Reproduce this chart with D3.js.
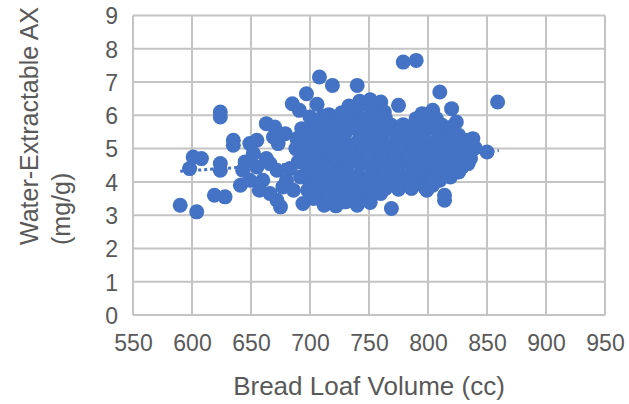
<!DOCTYPE html>
<html>
<head>
<meta charset="utf-8">
<script src="https://cdn.jsdelivr.net/npm/d3@7"></script>
<style>
  html, body { margin: 0; padding: 0; background: #fff; }
  svg { display: block; }
  text { font-family: "Liberation Sans", Arial, sans-serif; fill: #595959; }
</style>
</head>
<body>
<svg id="chart" width="629" height="404"></svg>
<script>
// ---- data ----
const xTicks = [550, 600, 650, 700, 750, 800, 850, 900, 950];
const yTicks = [0, 1, 2, 3, 4, 5, 6, 7, 8, 9];
const xTitle = "Bread Loaf Volume (cc)";
const yTitleLines = ["Water-Extractable AX", "(mg/g)"];
// [bread loaf volume (cc), water-extractable AX (mg/g)]
const samples = [
  [590,3.3],[604,3.1],[601,4.75],[608,4.7],[598,4.4],[624,6.1],[624,5.95],[624,4.55],[624,4.35],[619,3.6],[628,3.55],[635,5.25],[635,5.1],
  [643,4.35],[641,3.9],[649,5.15],[655,5.25],[663,5.75],[670,5.65],[669,5.35],[673,5.15],[666,4.55],[655,4.45],[649,4.05],[660,4.05],
  [657,3.75],[666,3.65],[672,3.45],[675,3.25],[685,6.35],[691,6.15],[689,5.3],[697,6.65],[672,4.35],[680,4.05],[686,3.75],[677,3.85],
  [694,3.35],[652,4.85],[663,4.7],[645,4.6],[683,4.4],[690,4.6],[688,5.0],[679,5.45],[708,7.15],[719,6.9],[740,6.9],[779,7.6],[790,7.65],
  [810,6.7],[859,6.4],[820,6.2],[824,5.8],[834,5.25],[850,4.9],[834,4.55],[814,3.6],[814,3.45],[769,3.2],[799,3.75],[775,6.3],[804,6.15],
  [742,6.42],[751,6.47],[760,6.4],
  [706,6.33],[733,6.28],[747,6.33],[757,6.3],
  [716,6.02],[727,6.08],[739,6.1],[752,6.15],[763,6.1],[795,6.05],
  [700,5.95],[711,5.98],[722,5.92],[733,5.96],[744,5.9],[755,5.97],[764,5.9],[790,5.9],[798,5.95],[807,5.9],
  [704,5.75],[714,5.72],[725,5.78],[736,5.7],[747,5.76],[758,5.73],[769,5.7],[779,5.72],[790,5.72],[801,5.78],[812,5.7],[820,5.65],
  [698,5.5],[709,5.53],[720,5.47],[731,5.52],[742,5.5],[753,5.46],[764,5.54],[775,5.5],[786,5.48],[797,5.52],[808,5.5],[818,5.45],[826,5.4],
  [696,5.25],[707,5.22],[718,5.28],[729,5.24],[740,5.2],[751,5.27],[762,5.23],[773,5.25],[784,5.2],[795,5.26],[806,5.22],[816,5.28],[827,5.2],[838,5.3],
  [700,5.0],[711,4.98],[722,5.03],[733,5.0],[744,4.97],[755,5.02],[766,5.0],[777,4.96],[788,5.03],[799,5.0],[810,4.98],[820,5.05],[830,5.0],[840,5.02],
  [696,4.75],[706,4.78],[717,4.72],[728,4.76],[739,4.74],[750,4.78],[761,4.72],[772,4.75],[783,4.77],[794,4.73],[805,4.76],[815,4.72],[825,4.78],[836,4.7],
  [699,4.5],[710,4.52],[721,4.48],[732,4.5],[743,4.53],[754,4.47],[765,4.5],[776,4.52],[787,4.48],[798,4.51],[809,4.47],[819,4.52],[829,4.45],
  [697,4.25],[708,4.22],[719,4.28],[730,4.24],[741,4.2],[752,4.26],[763,4.23],[774,4.27],[785,4.22],[796,4.25],[807,4.28],[817,4.2],[826,4.3],
  [700,4.0],[711,3.98],[722,4.03],[733,4.0],[744,3.97],[755,4.02],[766,3.98],[777,4.03],[788,4.0],[799,3.97],[810,4.05],[819,4.15],
  [698,3.75],[709,3.78],[720,3.72],[731,3.76],[742,3.7],[753,3.76],[764,3.8],[775,3.78],[786,3.8],[797,3.85],
  [703,3.5],[714,3.53],[725,3.48],[736,3.52],[747,3.47],[760,3.65],
  [712,3.3],[722,3.28],[740,3.3],[751,3.38],[730,3.4],
  [703,4.62],[705,4.12],[703,3.62],[715,3.4],[705,5.38],[703,5.12],[694,4.9],[692,4.15],[693,5.6],
  [716,4.38],[727,3.88],[738,4.62],[749,5.12],[760,3.88],[771,4.62],[782,5.38],[793,4.38],[804,3.9],[813,4.88]
];
// linear trendline endpoints
const trendX = [590, 860];
const trendY = [4.32, 4.94];

// ---- layout ----
const margin = { left: 133, top: 15.5, right: 24, bottom: 89 };
const W = 629, H = 404;
const svg = d3.select("#chart");
const x = d3.scaleLinear().domain([550, 950]).range([margin.left, W - margin.right]);
const y = d3.scaleLinear().domain([0, 9]).range([H - margin.bottom, margin.top]);

const gridColor = "#C4C4C4";
// gridlines
svg.append("g").selectAll("line").data(xTicks).join("line")
  .attr("x1", d => x(d)).attr("x2", d => x(d))
  .attr("y1", y(0)).attr("y2", y(9))
  .attr("stroke", gridColor).attr("stroke-width", 2);
svg.append("g").selectAll("line").data(yTicks).join("line")
  .attr("y1", d => y(d)).attr("y2", d => y(d))
  .attr("x1", x(550)).attr("x2", x(950))
  .attr("stroke", gridColor).attr("stroke-width", 2);

// axes labels via d3 axes (no domain/tick lines)
const xAxis = svg.append("g").attr("transform", `translate(0,${y(0)})`)
  .call(d3.axisBottom(x).tickValues(xTicks).tickSize(0).tickPadding(20));
xAxis.select(".domain").remove();
xAxis.selectAll("text").attr("font-size", 23).attr("fill", "#595959")
  .attr("font-family", "Liberation Sans, Arial, sans-serif").attr("dy", "0.71em");

const yAxis = svg.append("g").attr("transform", `translate(${x(550)},0)`)
  .call(d3.axisLeft(y).tickValues(yTicks).tickSize(0).tickPadding(15));
yAxis.select(".domain").remove();
yAxis.selectAll("text").attr("font-size", 23).attr("fill", "#595959")
  .attr("font-family", "Liberation Sans, Arial, sans-serif").attr("dy", "0.36em");

// trendline
svg.append("line")
  .attr("x1", x(trendX[0])).attr("y1", y(trendY[0]))
  .attr("x2", x(trendX[1])).attr("y2", y(trendY[1]))
  .attr("stroke", "#4472C4").attr("stroke-width", 3).attr("stroke-dasharray", "3,3");

// points
svg.append("g").selectAll("circle").data(samples).join("circle")
  .attr("cx", d => x(d[0])).attr("cy", d => y(d[1]))
  .attr("r", 7.5).attr("fill", "#4472C4");

// titles
svg.append("text")
  .attr("x", (x(550) + x(950)) / 2).attr("y", 395)
  .attr("text-anchor", "middle").attr("font-size", 26)
  .text(xTitle);

const yt = svg.append("text").attr("transform", "translate(0,245) rotate(-90)")
  .attr("font-size", 25);
yt.selectAll("tspan").data(yTitleLines).join("tspan")
  .attr("x", 0).attr("y", (d, i) => 38 + i * 32)
  .text(d => d);
</script>
</body>
</html>
